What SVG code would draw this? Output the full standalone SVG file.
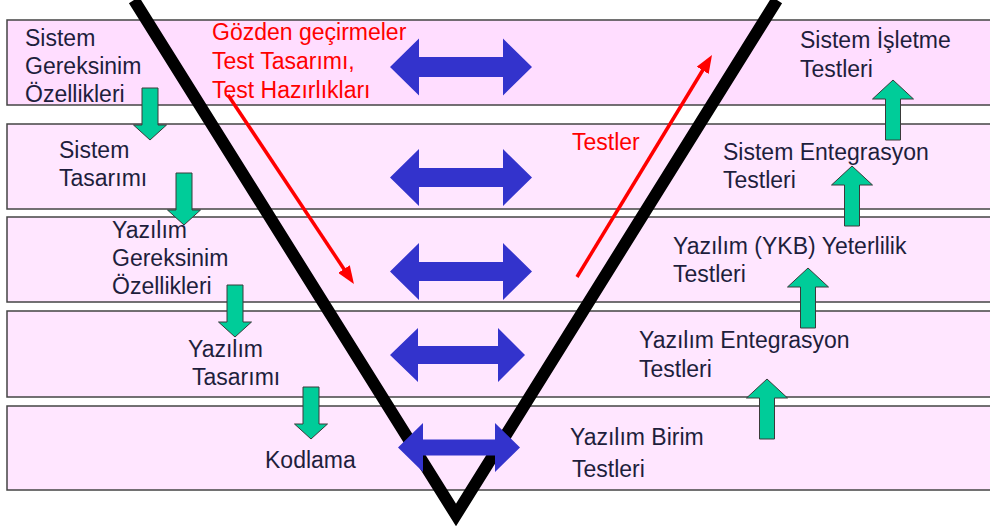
<svg xmlns="http://www.w3.org/2000/svg" width="990" height="530" viewBox="0 0 990 530">
<style>
.band{stroke:#444;stroke-width:1.5}
.b1{fill:#FFDDFF}
.b2{fill:#FFE6FF}
.lbl{font-family:"Liberation Sans",Arial,sans-serif;font-size:23px;fill:#1E1E3C}
.red{font-family:"Liberation Sans",Arial,sans-serif;font-size:23px;fill:#FF0000}
.blue{fill:#3333CC}
.green{fill:#00CC99;stroke:#3A3A3A;stroke-width:1}
.vline{fill:none;stroke:#000;stroke-width:12;stroke-linejoin:miter}
.rline{stroke:#FF0000;stroke-width:3.5;fill:none}
</style>
<defs>
<path id="down" d="M-8,-52 H8 V-15 H16.5 L0,0 L-16.5,-15 H-8 Z"/>
<path id="up" d="M0,0 L20.5,19 H7.5 V60 H-7.5 V19 H-20.5 Z"/>
<marker id="redHead" markerUnits="userSpaceOnUse" markerWidth="18" markerHeight="14" refX="8" refY="7" orient="auto">
<path d="M0,0 L18,7 L0,14 Z" fill="#FF0000"/>
</marker>
</defs>
<g id="bands">
<rect class="band b1" x="7" y="20" width="990" height="85"/>
<rect class="band b2" x="7" y="124" width="990" height="85"/>
<rect class="band b2" x="7" y="217" width="990" height="85"/>
<rect class="band b2" x="7" y="311" width="990" height="86"/>
<rect class="band b2" x="7" y="406" width="990" height="84"/>
</g>
<g id="connectors">
<g id="v-shape">
<polyline class="vline" points="134,0 456,515 777,0"/>
</g>
<g id="blue-arrows" class="blue">
<path d="M390,67 L419,38.5 V57 H503 V38.5 L532,67 L503,95.5 V77 H419 V95.5 Z"/>
<path d="M390,177.5 L419,149 V168 H503 V149 L532,177.5 L503,206 V187 H419 V206 Z"/>
<path d="M390,271.5 L419,243 V262 H503 V243 L532,271.5 L503,300 V281 H419 V300 Z"/>
<path d="M390,355 L418,328 V346 H498 V328 L525,355 L498,382 V364 H418 V382 Z"/>
<path d="M398,447.5 L423,423 V439.5 H495 V423 L520,447.5 L495,472 V455.5 H423 V472 Z"/>
</g>
<g id="green-arrows" class="green">
<use href="#down" x="150" y="140"/>
<use href="#down" x="184" y="225"/>
<use href="#down" x="235" y="337"/>
<use href="#down" x="311" y="439"/>
<use href="#up" x="893" y="80"/>
<use href="#up" x="852" y="166"/>
<use href="#up" x="808" y="268"/>
<use href="#up" x="767" y="379"/>
</g>
<g id="red-arrows">
<line class="rline" x1="228" y1="95" x2="348.4" y2="275.7" marker-end="url(#redHead)"/>
<line class="rline" x1="577" y1="277" x2="706.8" y2="63.5" marker-end="url(#redHead)"/>
</g>
</g>
<g id="n-sistem-gereksinim"><text class="lbl" x="25" y="46">Sistem</text><text class="lbl" x="25" y="74">Gereksinim</text><text class="lbl" x="25" y="102">Özellikleri</text></g>
<g id="n-gozden"><text class="red" x="212" y="40">Gözden geçirmeler</text><text class="red" x="212" y="69">Test Tasarımı,</text><text class="red" x="212" y="98">Test Hazırlıkları</text></g>
<g id="n-sistem-isletme"><text class="lbl" x="800" y="48">Sistem İşletme</text><text class="lbl" x="800" y="77">Testleri</text></g>
<g id="n-sistem-tasarimi"><text class="lbl" x="59" y="158">Sistem</text><text class="lbl" x="59" y="186">Tasarımı</text></g>
<g id="n-testler"><text class="red" x="572" y="150">Testler</text></g>
<g id="n-sistem-entegrasyon"><text class="lbl" x="723" y="160">Sistem Entegrasyon</text><text class="lbl" x="723" y="188">Testleri</text></g>
<g id="n-yazilim-gereksinim"><text class="lbl" x="112" y="238">Yazılım</text><text class="lbl" x="112" y="266">Gereksinim</text><text class="lbl" x="112" y="294">Özellikleri</text></g>
<g id="n-yeterlilik"><text class="lbl" x="673" y="254">Yazılım (YKB) Yeterlilik</text><text class="lbl" x="673" y="282">Testleri</text></g>
<g id="n-yazilim-tasarimi"><text class="lbl" x="188" y="357">Yazılım</text><text class="lbl" x="192" y="385">Tasarımı</text></g>
<g id="n-yazilim-entegrasyon"><text class="lbl" x="639" y="348">Yazılım Entegrasyon</text><text class="lbl" x="639" y="377">Testleri</text></g>
<g id="n-kodlama"><text class="lbl" x="265" y="468">Kodlama</text></g>
<g id="n-birim"><text class="lbl" x="570" y="445">Yazılım Birim</text><text class="lbl" x="572" y="477">Testleri</text></g>
</svg>
